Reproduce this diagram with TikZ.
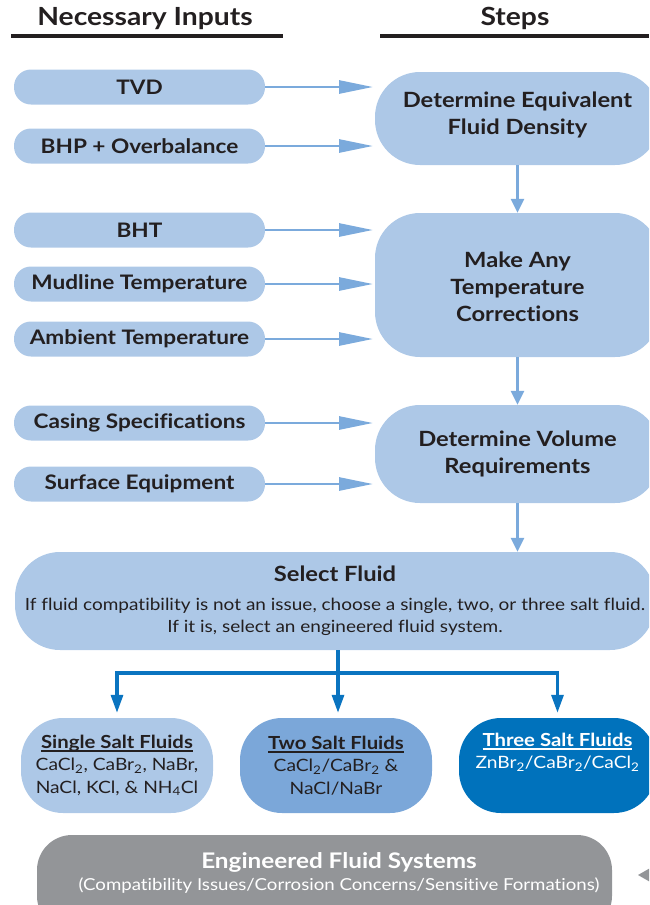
\documentclass[tikz,border=0pt]{standalone}
\usepackage{fontspec}
\setmainfont{Lato}[FakeStretch=1.13,Ligatures=NoCommon]
\newcommand\myul[1]{\setbox0\hbox{#1}\leavevmode\rlap{\rule[-3.5pt]{\wd0}{1.8pt}}\box0}
\usetikzlibrary{arrows.meta,positioning}
\definecolor{lb}{HTML}{ADC8E7}
\definecolor{arr}{HTML}{7BAADC}
\definecolor{mb}{HTML}{7BA7D9}
\definecolor{db}{HTML}{0072BC}
\definecolor{cb}{HTML}{0A74C0}
\definecolor{gr}{HTML}{939598}
\definecolor{txt}{HTML}{231F20}
\tikzset{
  inbox/.style={fill=lb, rounded corners=17pt, minimum width=251pt, minimum height=35pt, inner sep=0pt,
    font=\fontsize{20}{22}\selectfont\bfseries, text=txt},
  stepbox/.style={fill=lb, rounded corners=45pt, minimum width=285pt, inner sep=0pt, align=center,
    font=\fontsize{21}{27}\selectfont\bfseries, text=txt},
  saltbox/.style={rounded corners=42pt, minimum width=192pt, minimum height=95pt, inner sep=0pt, align=center,
    font=\fontsize{17}{22.5}\selectfont, text=txt},
  head/.style={font=\fontsize{25}{28}\selectfont\bfseries, text=txt},
  hline/.style={draw=txt, line width=3.2pt},
  harrow/.style={draw=arr, line width=2.8pt, -{Triangle[length=34pt,width=13pt]}},
  varrow/.style={draw=arr, line width=2.8pt, -{Triangle[length=14pt,width=13pt]}},
  conn/.style={draw=cb, line width=3.2pt},
  carrow/.style={draw=cb, line width=3.2pt, -{Triangle[length=18pt,width=12pt]}, shorten >=5pt},
}
\begin{document}
\begin{tikzpicture}[x=1pt,y=-1pt]
\useasboundingbox (0,0) rectangle (649,905);
\clip (0,0) rectangle (649,905);
% headings
\node[head] (hin) at (145,18.5) {Necessary Inputs};
\node[head] (hst) at (515,18.5) {Steps};
\coordinate (l1a) at (11,36); \coordinate (l1b) at (283,36);
\coordinate (l2a) at (380,36); \coordinate (l2b) at (649,36);
\draw[hline] (l1a) -- (l1b);
\draw[hline] (l2a) -- (l2b);
% inputs
\node[inbox] (tvd) at (139.5,87) {TVD};
\node[inbox] (bhp) at (139.5,146) {BHP + Overbalance};
\node[inbox] (bht) at (139.5,230) {BHT};
\node[inbox] (mud) at (139.5,284) {Mudline Temperature};
\node[inbox] (amb) at (139.5,339) {Ambient Temperature};
\node[inbox] (cas) at (139.5,423) {Casing Specifications};
\node[inbox] (sur) at (139.5,484) {Surface Equipment};
% steps
\node[stepbox, minimum height=93pt] (s1) at (517.5,118.5) {};
\node[stepbox, fill=none] (s1t) at (517.5,115) {Determine Equivalent\\Fluid Density};
\node[stepbox, minimum height=144pt] (s2) at (517.5,285) {};
\node[stepbox, fill=none] (s2t) at (517.5,287) {Make Any\\Temperature\\Corrections};
\node[stepbox, minimum height=98pt] (s3) at (517.5,454) {Determine Volume\\Requirements};
% input arrows
\foreach \n in {tvd,bhp,bht,mud,amb,cas,sur}{
  \coordinate (\n e) at (373,0 |- \n.east);
  \draw[harrow] (\n.east) -- (\n e);
}
% step arrows
\draw[varrow] (s1.south) -- (s2.north);
\draw[varrow] (s2.south) -- (s3.north);
% select fluid
\node[fill=lb, rounded corners=45pt, minimum width=640pt, minimum height=98pt, inner sep=0pt] (sel) at (335,601) {};
\draw[varrow] (s3.south) -- (sel.north -| s3.south);
\node[text=txt, font=\fontsize{21}{24}\selectfont\bfseries] (selt) at (335,574) {Select Fluid};
\node[text=txt, align=center, font=\fontsize{16.8}{22}\selectfont] (selb) at (335,617) {If fluid compatibility is not an issue, choose a single, two, or three salt fluid.\\If it is, select an engineered fluid system.};
% salt fluids
\node[saltbox, fill=lb] (ss) at (117,765.5) {{\fontsize{18}{22.5}\selectfont\bfseries\myul{Single Salt Fluids}}\\CaCl\textsubscript{2}, CaBr\textsubscript{2}, NaBr,\\NaCl, KCl, \& NH\textsubscript{4}Cl};
\node[saltbox, fill=mb] (ts) at (336,765.5) {{\fontsize{18}{22.5}\selectfont\bfseries\myul{Two Salt Fluids}}\\CaCl\textsubscript{2}/CaBr\textsubscript{2} \&\\NaCl/NaBr};
\node[saltbox, fill=db, text=white, minimum width=197pt] (th) at (557.5,765.5) {{\fontsize{18}{22.5}\selectfont\bfseries\myul{Three Salt Fluids}}\\ZnBr\textsubscript{2}/CaBr\textsubscript{2}/CaCl\textsubscript{2}\\\strut};
% connectors
\coordinate (j) at (338,673);
\draw[conn] (sel.south -| j) -- (j);
\draw[carrow] (j) -| (ss.north);
\draw[carrow] (j) -- (j |- ts.north);
\draw[carrow] (j) -| (th.north);
% engineered
\node[fill=gr, rounded corners=35pt, minimum width=575pt, minimum height=96pt, inner sep=0pt] (eng) at (324.5,883) {};
\node[text=white, font=\fontsize{21.5}{24}\selectfont\bfseries] (engt) at (339,862) {Engineered Fluid Systems};
\node[text=white, font=\fontsize{16.5}{18}\selectfont] (engs) at (339,886) {(Compatibility Issues/Corrosion Concerns/Sensitive Formations)};
\coordinate (gtip) at (638,875);
\fill[gr] (gtip) -- ++(14,-8) -- ++(0,16) -- cycle;
\end{tikzpicture}
\end{document}
